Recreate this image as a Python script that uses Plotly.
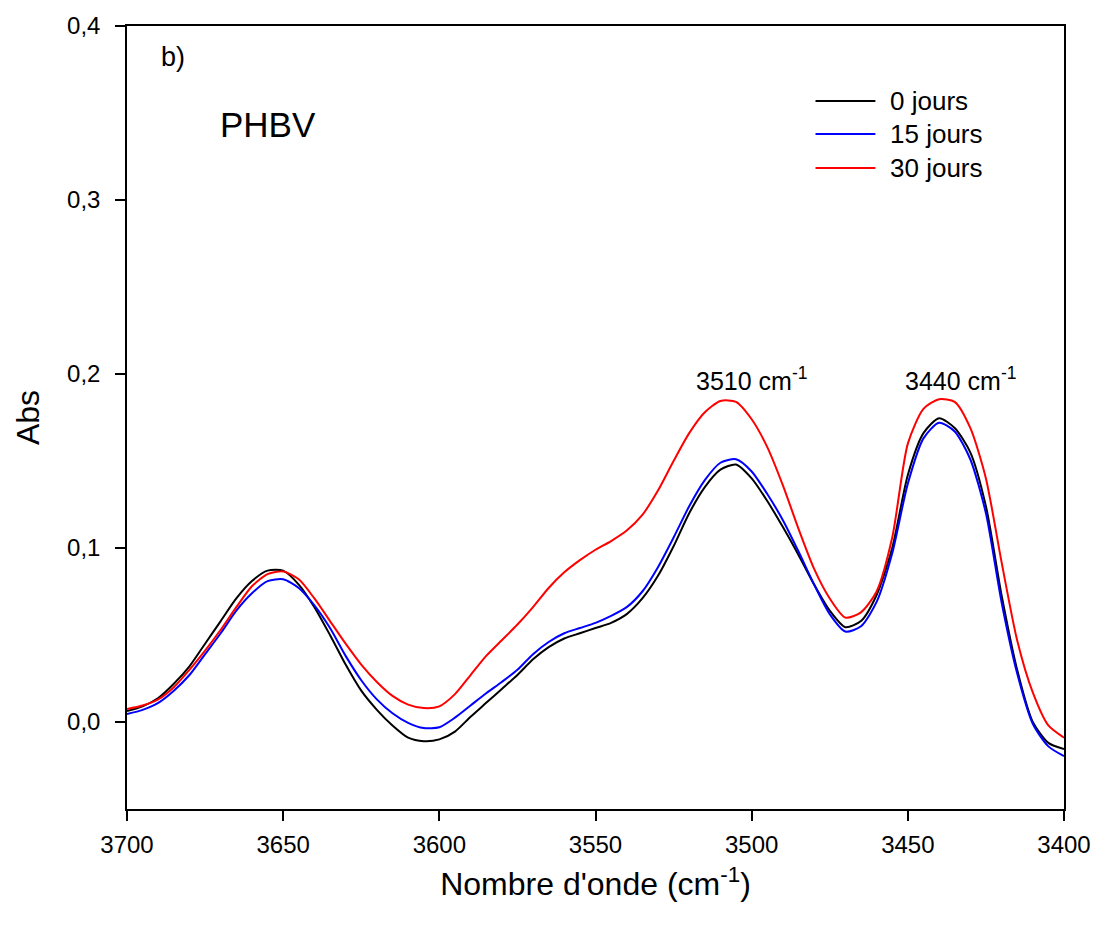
import plotly.graph_objects as go

wavenumber = list(range(3700, 3399, -5))

abs_0j = [0.0063, 0.009, 0.0138, 0.022, 0.032, 0.045, 0.058, 0.071, 0.081, 0.087,
          0.087, 0.079, 0.066, 0.050, 0.033, 0.018, 0.007, -0.002, -0.009, -0.011,
          -0.010, -0.0055, 0.003, 0.011, 0.019, 0.027, 0.036, 0.043, 0.048, 0.051,
          0.054, 0.057, 0.062, 0.071, 0.084, 0.101, 0.120, 0.135, 0.145, 0.148,
          0.140, 0.127, 0.112, 0.096, 0.079, 0.064, 0.0545, 0.058, 0.073, 0.100,
          0.142, 0.166, 0.1746, 0.169, 0.155, 0.124, 0.073, 0.030, 0.000, -0.012,
          -0.0156]

abs_15j = [0.0046, 0.007, 0.011, 0.018, 0.027, 0.039, 0.051, 0.064, 0.074, 0.081,
           0.082, 0.077, 0.067, 0.054, 0.038, 0.024, 0.013, 0.005, -0.0005, -0.0035,
           -0.003, 0.0025, 0.0095, 0.0165, 0.023, 0.030, 0.039, 0.046, 0.051, 0.054,
           0.057, 0.061, 0.066, 0.075, 0.089, 0.106, 0.124, 0.139, 0.149, 0.151,
           0.144, 0.131, 0.116, 0.098, 0.079, 0.062, 0.052, 0.055, 0.069, 0.097,
           0.137, 0.163, 0.172, 0.167, 0.151, 0.120, 0.069, 0.028, -0.001, -0.014,
           -0.0196]

abs_30j = [0.0075, 0.0095, 0.013, 0.020, 0.030, 0.041, 0.053, 0.066, 0.078, 0.085,
           0.0865, 0.082, 0.071, 0.058, 0.045, 0.033, 0.023, 0.015, 0.010, 0.008,
           0.009, 0.016, 0.027, 0.038, 0.047, 0.056, 0.066, 0.077, 0.086, 0.093,
           0.099, 0.104, 0.110, 0.119, 0.133, 0.150, 0.166, 0.178, 0.1845, 0.184,
           0.174, 0.158, 0.136, 0.111, 0.088, 0.071, 0.060, 0.063, 0.075, 0.106,
           0.160, 0.180, 0.1855, 0.184, 0.169, 0.140, 0.092, 0.047, 0.017, -0.002,
           -0.009]

series_names = ["0 jours", "15 jours", "30 jours"]
series_colors = ["#000000", "#0000ff", "#ff0000"]

FONT = "Arial, Liberation Sans, sans-serif"

fig = go.Figure()
for name, vals, col in zip(series_names, [abs_0j, abs_15j, abs_30j], series_colors):
    fig.add_trace(go.Scatter(x=wavenumber, y=vals, mode="lines", name=name, showlegend=False,
                             line=dict(color=col, width=2, shape="spline", smoothing=0.7)))

fig.update_layout(
    width=1103, height=927,
    margin=dict(l=127, r=37, t=26, b=118),
    paper_bgcolor="white", plot_bgcolor="white",
    separators=",.",
    font=dict(family=FONT, size=24, color="black"),
    showlegend=False,
    xaxis=dict(range=[3700, 3400], tickmode="linear", tick0=3400, dtick=50,
               showline=True, linecolor="black", linewidth=1.5, mirror=True,
               ticks="outside", ticklen=10, tickwidth=1.5, tickcolor="black",
               showgrid=False, zeroline=False, ticklabelstandoff=3,
               tickfont=dict(family=FONT, size=24),
               title=dict(text="Nombre d'onde (cm<sup>-1</sup>)", standoff=16,
                          font=dict(family=FONT, size=32))),
    yaxis=dict(range=[-0.05, 0.4], tickmode="linear", tick0=0, dtick=0.1, tickformat=".1f",
               showline=True, linecolor="black", linewidth=1.5, mirror=True,
               ticks="outside", ticklen=10, tickwidth=1.5, tickcolor="black",
               showgrid=False, zeroline=False, ticklabelstandoff=10,
               tickfont=dict(family=FONT, size=24),
               title=dict(text="Abs", standoff=18, font=dict(family=FONT, size=32))),
)

# legend drawn as line samples + labels
legend_rows_y = [0.9042, 0.8621, 0.8186]
for name, col, ly in zip(series_names, series_colors, legend_rows_y):
    fig.add_shape(type="line", xref="paper", yref="paper", x0=0.7348, x1=0.7987,
                  y0=ly, y1=ly, line=dict(color=col, width=2))
    fig.add_annotation(text=name, xref="paper", yref="paper", x=0.8126, y=ly,
                       xanchor="left", yanchor="middle", showarrow=False,
                       font=dict(family=FONT, size=26))

fig.add_annotation(text="b)", xref="paper", yref="paper", x=0.049, y=0.960,
                   xanchor="center", yanchor="middle",
                   showarrow=False, font=dict(family=FONT, size=27))
fig.add_annotation(text="PHBV", xref="paper", yref="paper", x=0.150, y=0.8736,
                   xanchor="center", yanchor="middle",
                   showarrow=False, font=dict(family=FONT, size=35))
fig.add_annotation(text="3510 cm<sup>-1</sup>", x=3500, y=0.197, xref="x", yref="y",
                   xanchor="center", yanchor="middle",
                   showarrow=False, font=dict(family=FONT, size=25))
fig.add_annotation(text="3440 cm<sup>-1</sup>", x=3433, y=0.197, xref="x", yref="y",
                   xanchor="center", yanchor="middle",
                   showarrow=False, font=dict(family=FONT, size=25))

fig.write_html("out.html")
